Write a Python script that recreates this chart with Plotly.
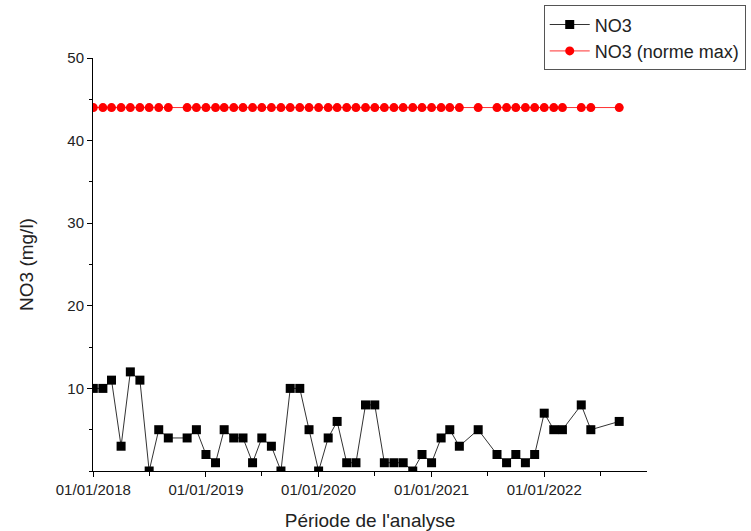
import plotly.graph_objects as go

# Monthly sampling dates and measured nitrate concentrations (mg/l)
dates = [
    "2018-01-01", "2018-02-01", "2018-03-01", "2018-04-01", "2018-05-01", "2018-06-01",
    "2018-07-01", "2018-08-01", "2018-09-01", "2018-11-01", "2018-12-01",
    "2019-01-01", "2019-02-01", "2019-03-01", "2019-04-01", "2019-05-01", "2019-06-01",
    "2019-07-01", "2019-08-01", "2019-09-01", "2019-10-01", "2019-11-01", "2019-12-01",
    "2020-01-01", "2020-02-01", "2020-03-01", "2020-04-01", "2020-05-01", "2020-06-01",
    "2020-07-01", "2020-08-01", "2020-09-01", "2020-10-01", "2020-11-01", "2020-12-01",
    "2021-01-01", "2021-02-01", "2021-03-01", "2021-04-01", "2021-06-01",
    "2021-08-01", "2021-09-01", "2021-10-01", "2021-11-01", "2021-12-01",
    "2022-01-01", "2022-02-01", "2022-03-01", "2022-05-01", "2022-06-01", "2022-09-01",
]
no3 = [
    10, 10, 11, 3, 12, 11, 0, 5, 4, 4, 5,
    2, 1, 5, 4, 4, 1, 4, 3, 0, 10, 10, 5,
    0, 4, 6, 1, 1, 8, 8, 1, 1, 1, 0, 2,
    1, 4, 5, 3, 5,
    2, 1, 2, 1, 2,
    7, 5, 5, 8, 5, 6,
]
# Regulatory maximum, repeated at every sampling date
no3_max = [44] * len(dates)

x_tick_vals = ["2018-01-01", "2019-01-01", "2020-01-01", "2021-01-01", "2022-01-01"]
x_tick_text = ["01/01/2018", "01/01/2019", "01/01/2020", "01/01/2021", "01/01/2022"]
x_minor_vals = ["2018-07-01", "2019-07-01", "2020-07-01", "2021-07-01", "2022-07-01"]
y_tick_vals = [10, 20, 30, 40, 50]

font_family = "Liberation Sans, Arial, sans-serif"
text_color = "#222222"

fig = go.Figure()
fig.add_trace(go.Scatter(
    x=dates, y=no3, name="NO3", mode="lines+markers",
    line=dict(color="#333333", width=1),
    marker=dict(symbol="square", size=9, color="black"),
))
fig.add_trace(go.Scatter(
    x=dates, y=no3_max, name="NO3 (norme max)", mode="lines+markers",
    line=dict(color="#ff3030", width=1),
    marker=dict(symbol="circle", size=9, color="#ff0000"),
))

fig.update_layout(
    width=751, height=531,
    margin=dict(l=93, r=104, t=58, b=60, autoexpand=False),
    paper_bgcolor="white", plot_bgcolor="white",
    font=dict(family=font_family, color=text_color, size=15),
    showlegend=True,
    legend=dict(
        xref="container", yref="container",
        x=0.724, y=0.99, xanchor="left", yanchor="top",
        bordercolor="#555555", borderwidth=1,
        font=dict(size=18, color=text_color),
        itemwidth=40, tracegroupgap=0,
        bgcolor="white",
    ),
)

fig.update_xaxes(
    type="date",
    automargin=False,
    range=["2017-12-31", "2022-11-30"],
    tickvals=x_tick_vals, ticktext=x_tick_text,
    ticks="outside", ticklen=5, tickwidth=1, tickcolor="black",
    minor=dict(tickvals=x_minor_vals, ticks="outside", ticklen=4, tickcolor="black", showgrid=False),
    showline=True, linecolor="black", linewidth=1,
    showgrid=False, zeroline=False,
    tickfont=dict(size=15),
    title=dict(text="Période de l'analyse", font=dict(size=19), standoff=16),
)
fig.update_yaxes(
    automargin=False,
    range=[0, 50],
    tickvals=y_tick_vals,
    ticks="outside", ticklen=5, tickwidth=1, tickcolor="black",
    minor=dict(dtick=5, tick0=0, ticks="outside", ticklen=3, tickcolor="black", showgrid=False),
    showline=True, linecolor="black", linewidth=1,
    showgrid=False, zeroline=False,
    tickfont=dict(size=15),
    title=dict(text="NO3 (mg/l)", font=dict(size=19), standoff=28),
)

fig.write_html("out.html")
